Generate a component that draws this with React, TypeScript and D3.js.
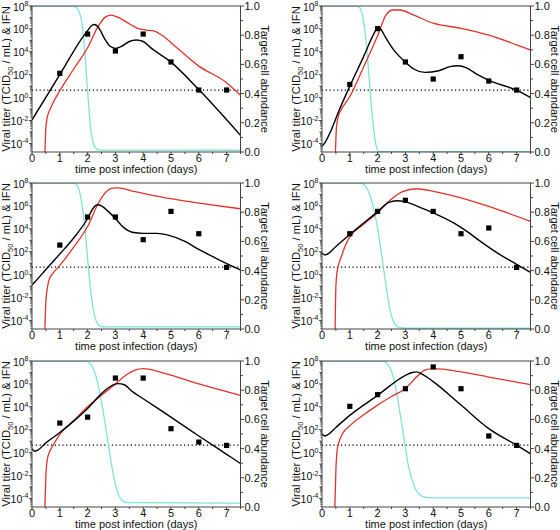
import React from "react";
import * as d3 from "d3";

// ---------- DATA (log10 values for titer / IFN, fraction for target cells) ----------
const days = [1, 2, 3, 4, 5, 6, 7];
const detectionLimitLog = 0.65;

const titer1 = [2.12, 5.55, 4.07, 5.55, 3.11, 0.66, 0.66];
const titer2 = [1.15, 6.02, 3.11, 1.62, 3.57, 1.45, 0.66];
const titer3 = [2.58, 5.03, 5.03, 3.05, 5.52, 3.57, 0.63];
const titer4 = [3.57, 5.52, 6.49, 5.52, 3.57, 4.07, 0.63];
const titer5 = [2.58, 3.1, 6.51, 6.51, 2.09, 0.92, 0.63];
const titer6 = [4.04, 5.06, 5.58, 7.48, 5.58, 1.45, 0.63];

const fit1: [number, number][] = [[0, -1.95], [1, 2.0], [1.8, 5.2], [2.0, 5.85], [2.15, 6.3], [2.25, 6.38], [2.4, 6.1], [2.6, 5.2], [2.8, 4.5], [3.0, 4.3], [3.2, 4.45], [3.5, 4.9], [3.75, 5.03], [4.0, 4.9], [4.3, 4.3], [5.0, 3.1], [6.0, 0.7], [7.5, -3.3]];
const fit2: [number, number][] = [[0, -4.25], [0.1, -3.95], [0.3, -3.0], [0.6, -1.2], [1.0, 1.0], [1.5, 3.6], [1.85, 5.5], [2.0, 6.1], [2.1, 6.0], [2.3, 5.2], [2.6, 4.1], [3.0, 3.1], [3.3, 2.5], [3.7, 2.2], [4.2, 2.35], [4.6, 2.7], [4.9, 2.78], [5.2, 2.6], [5.6, 2.0], [6.0, 1.5], [7.0, 0.65], [7.5, 0.0]];
const fit3: [number, number][] = [[0, -0.9], [0.1, -0.65], [0.5, 0.45], [1.0, 1.8], [1.5, 3.2], [2.0, 4.9], [2.2, 5.8], [2.35, 6.1], [2.5, 6.0], [2.75, 5.5], [3.0, 4.9], [3.3, 4.1], [3.6, 3.7], [4.0, 3.6], [4.5, 3.6], [4.9, 3.45], [5.5, 2.9], [6.0, 2.2], [6.6, 1.45], [7.5, 0.4]];
const fit4: [number, number][] = [[0, 1.9], [0.1, 1.72], [0.2, 1.8], [0.5, 2.45], [1.0, 3.5], [1.5, 4.5], [2.0, 5.5], [2.4, 6.3], [2.7, 6.45], [3.0, 6.35], [3.5, 5.9], [4.0, 5.4], [4.75, 4.5], [5.2, 3.8], [5.7, 2.9], [6.3, 1.9], [7.0, 0.9], [7.5, 0.2]];
const fit5: [number, number][] = [[0, 0.35], [0.1, 0.12], [0.2, 0.2], [0.5, 0.85], [1.0, 1.75], [1.5, 2.75], [2.0, 3.85], [2.5, 5.15], [2.8, 5.75], [3.1, 6.02], [3.3, 5.95], [3.6, 5.35], [4.0, 4.7], [5.0, 3.1], [6.0, 1.45], [7.0, -0.15], [7.5, -0.95]];
const fit6: [number, number][] = [[0, 1.65], [0.1, 1.45], [0.2, 1.55], [0.5, 2.2], [1.0, 3.25], [2.0, 5.0], [3.0, 6.75], [3.25, 7.0], [3.4, 7.05], [3.6, 6.85], [4.0, 6.2], [5.0, 4.15], [6.0, 2.1], [7.0, 0.65], [7.5, -0.1]];

const ifn1: [number, number][] = [[0.46, -5], [0.5, -2.6], [0.55, -1.7], [0.62, -1.2], [0.75, -0.5], [1.0, 0.6], [1.5, 2.5], [2.0, 4.35], [2.4, 6.3], [2.65, 7.05], [2.85, 7.2], [3.1, 7.0], [3.5, 6.45], [3.8, 6.05], [4.1, 5.9], [4.4, 5.8], [4.7, 5.4], [5.0, 4.8], [6.0, 2.75], [7.0, 1.3], [7.5, 0.2]];
const ifn2: [number, number][] = [[0.48, -5], [0.52, -2.6], [0.58, -1.7], [0.68, -1.1], [0.85, -0.45], [1.0, 0.1], [1.5, 2.7], [2.0, 5.4], [2.3, 7.2], [2.55, 7.65], [2.8, 7.65], [3.3, 7.2], [4.0, 6.5], [5.0, 6.05], [6.0, 5.45], [7.0, 4.6], [7.5, 4.15]];
const ifn3: [number, number][] = [[0.46, -5], [0.5, -2.3], [0.55, -1.2], [0.62, -0.4], [0.75, 0.1], [1.0, 0.8], [1.5, 2.4], [2.0, 4.2], [2.4, 6.3], [2.7, 7.3], [2.9, 7.55], [3.1, 7.57], [3.6, 7.3], [4.8, 6.7], [6.0, 6.25], [7.5, 5.75]];
const ifn4: [number, number][] = [[0.47, -5], [0.5, -1.0], [0.54, 0.2], [0.6, 0.9], [0.7, 1.6], [0.85, 2.6], [1.0, 3.3], [1.5, 4.4], [2.0, 5.4], [2.45, 6.5], [2.9, 7.25], [3.4, 7.5], [4.0, 7.27], [5.0, 6.7], [6.0, 5.95], [7.5, 4.65]];
const ifn5: [number, number][] = [[0.46, -5], [0.5, -2.0], [0.55, -0.6], [0.62, 0.0], [0.75, 0.6], [1.0, 1.6], [1.5, 2.8], [2.0, 4.0], [2.5, 5.0], [3.0, 6.0], [3.4, 6.8], [3.7, 7.2], [4.0, 7.33], [4.8, 6.9], [6.0, 6.0], [7.5, 5.0]];
const ifn6: [number, number][] = [[0.46, -5], [0.5, -1.5], [0.55, 0.3], [0.62, 1.0], [0.75, 1.7], [1.0, 2.35], [1.5, 3.3], [2.0, 4.15], [2.5, 4.9], [3.0, 5.6], [3.4, 6.6], [3.7, 7.2], [4.0, 7.33], [5.0, 7.05], [6.0, 6.6], [7.5, 5.93]];

const target1: [number, number][] = [[0, 1], [1.5, 1], [1.6, 0.99], [1.7, 0.96], [1.8, 0.88], [1.9, 0.68], [2.0, 0.42], [2.1, 0.18], [2.2, 0.06], [2.3, 0.025], [2.45, 0.013], [7.5, 0.012]];
const target2: [number, number][] = [[0, 1], [1.25, 1], [1.35, 0.99], [1.45, 0.94], [1.55, 0.82], [1.65, 0.62], [1.75, 0.37], [1.85, 0.17], [1.95, 0.04], [2.05, 0.004], [2.2, 0.002], [7.5, 0.002]];
const target3: [number, number][] = [[0, 1], [1.5, 1], [1.6, 0.99], [1.7, 0.95], [1.8, 0.85], [1.9, 0.7], [2.0, 0.48], [2.1, 0.28], [2.2, 0.14], [2.3, 0.06], [2.45, 0.02], [2.6, 0.014], [7.5, 0.014]];
const target4: [number, number][] = [[0, 1], [1.4, 1], [1.55, 0.98], [1.7, 0.93], [1.85, 0.83], [2.0, 0.69], [2.15, 0.5], [2.3, 0.3], [2.45, 0.13], [2.6, 0.04], [2.75, 0.012], [3.0, 0.005], [7.5, 0.005]];
const target5: [number, number][] = [[0, 1], [1.9, 1], [2.05, 0.99], [2.2, 0.95], [2.35, 0.86], [2.5, 0.72], [2.65, 0.55], [2.8, 0.36], [2.95, 0.2], [3.1, 0.09], [3.25, 0.045], [3.45, 0.03], [7.5, 0.027]];
const target6: [number, number][] = [[0, 1], [2.2, 1], [2.35, 0.98], [2.5, 0.93], [2.65, 0.82], [2.8, 0.65], [2.95, 0.47], [3.1, 0.29], [3.3, 0.15], [3.5, 0.085], [3.75, 0.065], [4.0, 0.062], [7.5, 0.062]];

const xTicks = [0, 1, 2, 3, 4, 5, 6, 7];
const xMinorTicks = [0.5, 1.5, 2.5, 3.5, 4.5, 5.5, 6.5, 7.5];
const yLogTicks = [8, 6, 4, 2, 0, -2, -4];
const rightTicks = [0, 0.2, 0.4, 0.6, 0.8, 1.0];
const rightMinor = [0.1, 0.3, 0.5, 0.7, 0.9];

const panels = [
  { titer: titer1, fit: fit1, ifn: ifn1, target: target1 },
  { titer: titer2, fit: fit2, ifn: ifn2, target: target2 },
  { titer: titer3, fit: fit3, ifn: ifn3, target: target3 },
  { titer: titer4, fit: fit4, ifn: ifn4, target: target4 },
  { titer: titer5, fit: fit5, ifn: ifn5, target: target5 },
  { titer: titer6, fit: fit6, ifn: ifn6, target: target6 },
];

// ---------- LAYOUT ----------
const W = 560;
const H = 530;
const colLeft = [32, 322];
const titleX = [10, 300];
const rowTop = [6, 183, 361];
const PW = 208.5;
const PH = 146;
const FONT = "'Liberation Sans', Arial, sans-serif";
const AXIS = "#444";
const TXT = "#111";

type PanelProps = {
  idx: number;
  titer: number[];
  fit: [number, number][];
  ifn: [number, number][];
  target: [number, number][];
};

function Panel({ idx, titer, fit, ifn, target }: PanelProps) {
  const x0 = colLeft[idx % 2];
  const y0 = rowTop[Math.floor(idx / 2)];
  const x = d3.scaleLinear().domain([0, 7.5]).range([0, PW]);
  const y = d3.scaleLinear().domain([-4.75, 8]).range([PH, 0]);
  const yr = d3.scaleLinear().domain([0, 1]).range([PH, 0]);
  const line = d3
    .line<[number, number]>()
    .x((d) => x(d[0]))
    .y((d) => y(d[1]))
    .curve(d3.curveMonotoneX);
  const lineR = d3
    .line<[number, number]>()
    .x((d) => x(d[0]))
    .y((d) => yr(d[1]))
    .curve(d3.curveMonotoneX);
  const clipId = `clip${idx}`;
  const minorLog: number[] = [];
  for (let e = -5; e < 8; e++) {
    for (let m = 2; m <= 9; m++) {
      const v = e + Math.log10(m);
      if (v >= -4.75 && v <= 8) minorLog.push(v);
    }
  }
  const oddLog = [7, 5, 3, 1, -1, -3];
  const fs = 11;
  return (
    <g transform={`translate(${x0},${y0})`}>
      <defs>
        <clipPath id={clipId}>
          <rect x={0} y={0} width={PW} height={PH} />
        </clipPath>
      </defs>
      <g clipPath={`url(#${clipId})`}>
        <line
          x1={0}
          x2={PW}
          y1={y(detectionLimitLog)}
          y2={y(detectionLimitLog)}
          stroke="#000"
          strokeWidth={1.2}
          strokeDasharray="1.2,2.6"
        />
        <path d={lineR(target) || ""} fill="none" stroke="#7fe3d9" strokeWidth={1.3} />
        <path d={line(ifn) || ""} fill="none" stroke="#e0332b" strokeWidth={1.3} />
        <path d={line(fit) || ""} fill="none" stroke="#000" strokeWidth={1.4} />
        {titer.map((v, i) => (
          <rect
            key={i}
            x={x(days[i]) - 2.6}
            y={y(v) - 2.6}
            width={5.2}
            height={5.2}
            fill="#000"
          />
        ))}
      </g>
      {/* frame */}
      <rect x={0} y={0} width={PW} height={PH} fill="none" stroke={AXIS} strokeWidth={1} />
      {/* x ticks */}
      {xTicks.map((t) => (
        <g key={`xt${t}`}>
          <line x1={x(t)} x2={x(t)} y1={PH} y2={PH + 3} stroke={AXIS} />
          <text x={x(t)} y={PH + 10} fontSize={fs} textAnchor="middle" fontFamily={FONT} fill={TXT}>
            {t}
          </text>
        </g>
      ))}
      {xMinorTicks.map((t) => (
        <line key={`xm${t}`} x1={x(t)} x2={x(t)} y1={PH} y2={PH + 2} stroke={AXIS} />
      ))}
      <text x={PW / 2} y={PH + 20.5} fontSize={11} textAnchor="middle" fontFamily={FONT} fill={TXT}>
        time post infection (days)
      </text>
      {/* left log ticks */}
      {yLogTicks.map((t) => (
        <g key={`yl${t}`}>
          <line x1={-3} x2={0} y1={y(t)} y2={y(t)} stroke={AXIS} />
          <text x={-3.5} y={y(t) + 4.5} fontSize={10.5} textAnchor="end" fontFamily={FONT} fill={TXT}>
            10
            <tspan dy={-4.5} fontSize={7}>
              {t}
            </tspan>
          </text>
        </g>
      ))}
      {oddLog.map((t) => (
        <line key={`yo${t}`} x1={-2.5} x2={0} y1={y(t)} y2={y(t)} stroke={AXIS} />
      ))}
      {minorLog.map((t, i) => (
        <line key={`ym${i}`} x1={-2} x2={0} y1={y(t)} y2={y(t)} stroke={AXIS} strokeWidth={0.6} />
      ))}
      {/* right ticks */}
      {rightTicks.map((t) => (
        <g key={`yr${t}`}>
          <line x1={PW} x2={PW + 3.5} y1={yr(t)} y2={yr(t)} stroke={AXIS} />
          <text x={PW + 4} y={yr(t) + 4} fontSize={fs} textAnchor="start" fontFamily={FONT} fill={TXT}>
            {t.toFixed(1)}
          </text>
        </g>
      ))}
      {rightMinor.map((t) => (
        <line key={`yrm${t}`} x1={PW} x2={PW + 2.5} y1={yr(t)} y2={yr(t)} stroke={AXIS} />
      ))}
      {/* axis titles */}
      <text
        transform={`translate(${titleX[idx % 2] - x0},${PH / 2}) rotate(-90)`}
        fontSize={11.2}
        textAnchor="middle"
        fontFamily={FONT}
        fill={TXT}
      >
        Viral titer (TCID
        <tspan dy={3} fontSize={7.5}>
          50
        </tspan>
        <tspan dy={-3}> / mL) &amp; IFN</tspan>
      </text>
      <text
        transform={`translate(${PW + 20},${PH / 2}) rotate(90)`}
        fontSize={11}
        textAnchor="middle"
        fontFamily={FONT}
        fill={TXT}
      >
        Target cell abundance
      </text>
    </g>
  );
}

export default function App() {
  return (
    <svg width={W} height={H} style={{ display: "block", position: "absolute", left: 0, top: 0 }}>
      <rect width={W} height={H} fill="#fff" />
      {panels.map((p, i) => (
        <Panel key={i} idx={i} titer={p.titer} fit={p.fit} ifn={p.ifn} target={p.target} />
      ))}
    </svg>
  );
}
